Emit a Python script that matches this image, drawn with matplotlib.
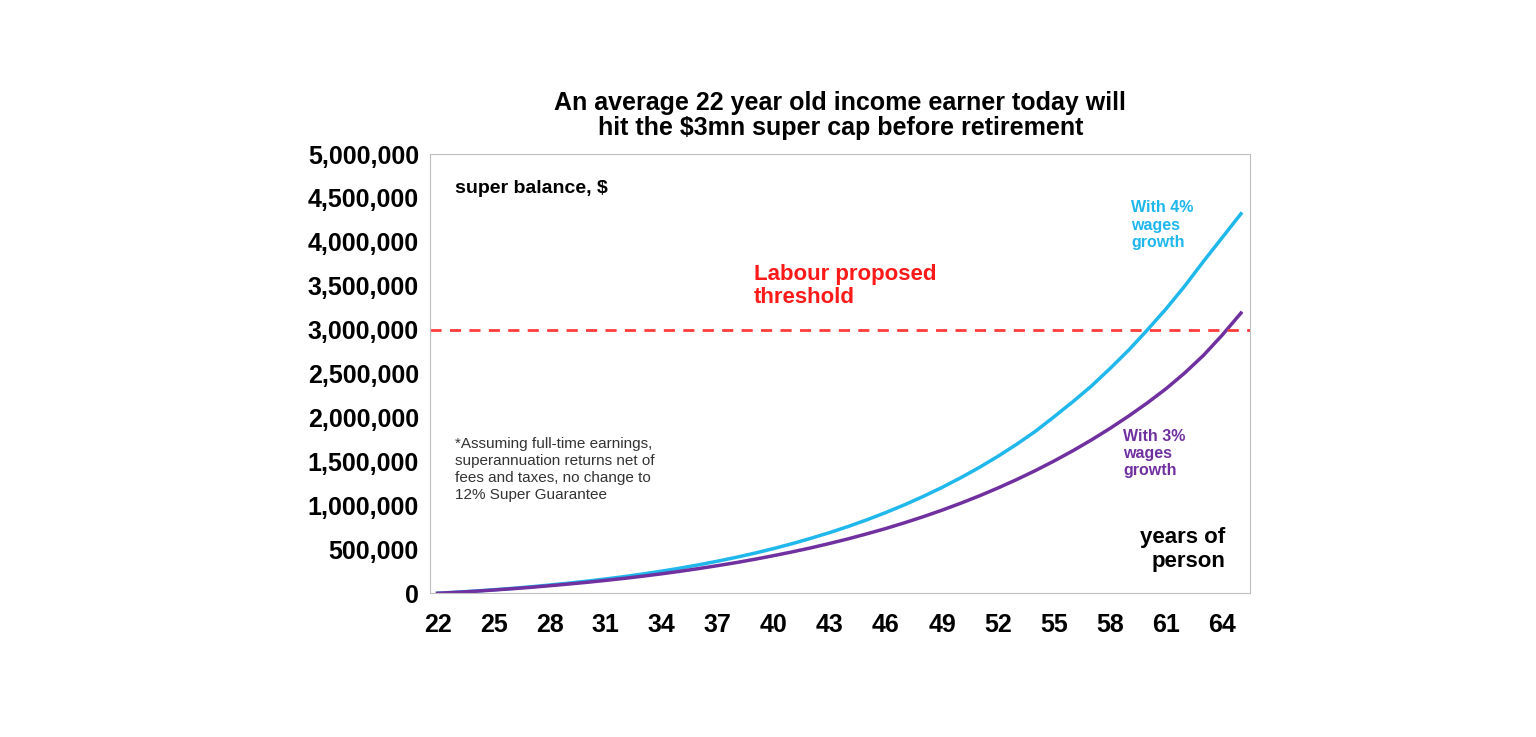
import matplotlib
matplotlib.use("Agg")
import matplotlib.pyplot as plt

plt.rcParams['font.family'] = ['Liberation Sans', 'DejaVu Sans']

ages = list(range(22, 66))
wage4 = [0, 0.012, 0.025, 0.04, 0.056, 0.074, 0.094, 0.115, 0.138, 0.163, 0.19, 0.22, 0.252, 0.287,
         0.325, 0.366, 0.41, 0.458, 0.51, 0.566, 0.627, 0.692, 0.762, 0.838, 0.92, 1.008, 1.103,
         1.205, 1.315, 1.433, 1.56, 1.697, 1.844, 2.01, 2.18, 2.36, 2.56, 2.77, 3.0, 3.24, 3.5,
         3.78, 4.05, 4.32]
wage3 = [0, 0.011, 0.023, 0.037, 0.052, 0.068, 0.086, 0.105, 0.125, 0.147, 0.17, 0.195, 0.222,
         0.251, 0.282, 0.315, 0.35, 0.388, 0.429, 0.472, 0.518, 0.568, 0.621, 0.678, 0.738, 0.803,
         0.872, 0.946, 1.025, 1.109, 1.199, 1.295, 1.397, 1.506, 1.622, 1.746, 1.878, 2.019, 2.169,
         2.33, 2.51, 2.71, 2.94, 3.19]
threshold = 3_000_000
xticks = list(range(22, 65, 3))
yticks = list(range(0, 5_000_001, 500_000))

fig = plt.figure(figsize=(15.36, 7.37), dpi=100)
ax = fig.add_axes([0.28, 0.195, 0.534, 0.596])
ax.plot(ages, [v * 1e6 for v in wage4], color="#1fb7ec", lw=2.5)
ax.plot(ages, [v * 1e6 for v in wage3], color="#7030a0", lw=2.5)
ax.axhline(threshold, color="#ff3b3b", ls=(0, (4, 3)), lw=2)
ax.set_xlim(21.6, 65.5)
ax.set_ylim(0, 5_000_000)
ax.set_xticks(xticks)
ax.set_yticks(yticks)
ax.set_yticklabels([f"{v:,}" for v in yticks])
for lab in ax.get_xticklabels() + ax.get_yticklabels():
    lab.set_fontweight("bold")
    lab.set_fontsize(18)
ax.tick_params(axis="both", length=0, pad=8)
ax.tick_params(axis="x", pad=14)
for s in ax.spines.values():
    s.set_color("#bfbfbf")
ax.set_title("An average 22 year old income earner today will\nhit the $3mn super cap before retirement",
             fontsize=18, fontweight="bold", linespacing=1.05, pad=14)
ax.text(0.03, 0.94, "super balance, $", transform=ax.transAxes, fontsize=14, fontweight="bold", va="top")
ax.text(0.395, 0.70, "Labour proposed\nthreshold", transform=ax.transAxes, fontsize=16,
        fontweight="bold", color="#ff1a1a", va="center", linespacing=1.15)
ax.text(0.855, 0.895, "With 4%\nwages\ngrowth", transform=ax.transAxes, fontsize=11.5,
        fontweight="bold", color="#1fb7ec", va="top")
ax.text(0.845, 0.375, "With 3%\nwages\ngrowth", transform=ax.transAxes, fontsize=11.5,
        fontweight="bold", color="#7030a0", va="top")
ax.text(0.97, 0.10, "years of\nperson", transform=ax.transAxes, fontsize=16,
        fontweight="bold", ha="right", va="center", multialignment="right", linespacing=1.2)
ax.text(0.03, 0.355, "*Assuming full-time earnings,\nsuperannuation returns net of\nfees and taxes, no change to\n12% Super Guarantee",
        transform=ax.transAxes, fontsize=11, va="top", color="#333333", linespacing=1.25)
fig.savefig("out.png", dpi=100)
